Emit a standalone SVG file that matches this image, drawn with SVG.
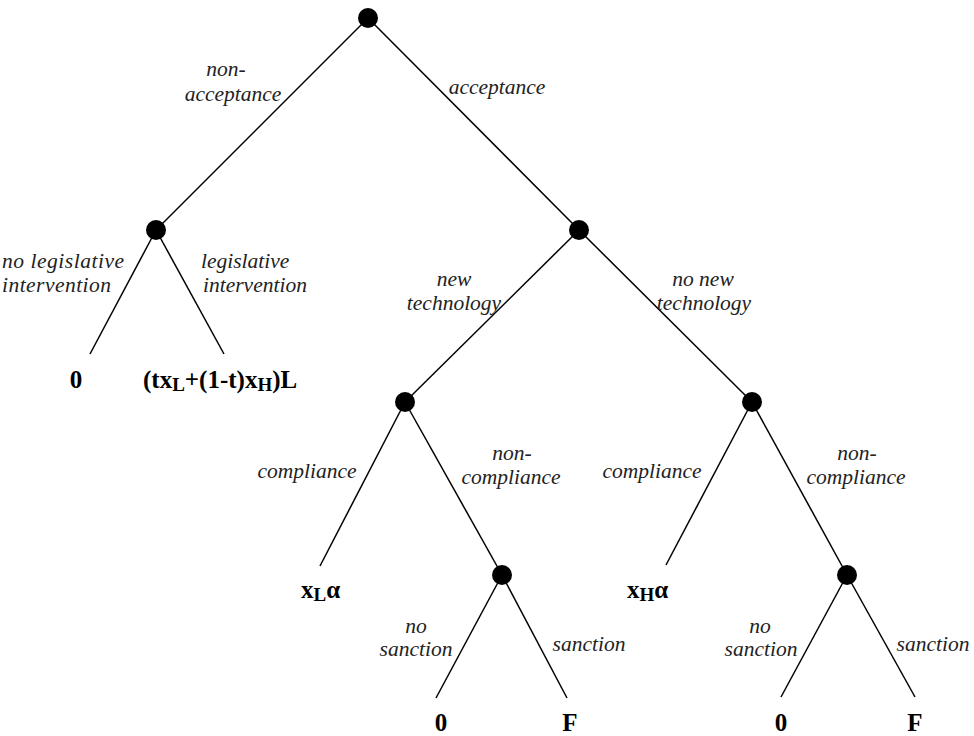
<svg xmlns="http://www.w3.org/2000/svg" width="974" height="736" viewBox="0 0 974 736">
<style>
.e{stroke:#000;stroke-width:1.5;fill:none}
.n{fill:#000}
.lb{font-family:"Liberation Serif","Times New Roman",serif;font-style:italic;font-size:21.5px;fill:#222;text-anchor:middle}
.p{font-family:"Liberation Serif","Times New Roman",serif;font-weight:bold;font-size:25px;fill:#000}
.s{font-size:19px}
</style>
<rect width="974" height="736" fill="#fff"/>
<g id="connectors">
<line class="e" x1="368" y1="18" x2="156" y2="230"/>
<line class="e" x1="368" y1="18" x2="579" y2="230"/>
<line class="e" x1="156" y1="230" x2="90" y2="354"/>
<line class="e" x1="156" y1="230" x2="224" y2="354"/>
<line class="e" x1="579" y1="230" x2="405" y2="402"/>
<line class="e" x1="579" y1="230" x2="752" y2="402"/>
<line class="e" x1="405" y1="402" x2="320" y2="566"/>
<line class="e" x1="405" y1="402" x2="502" y2="575"/>
<line class="e" x1="502" y1="575" x2="436" y2="698"/>
<line class="e" x1="502" y1="575" x2="567" y2="698"/>
<line class="e" x1="752" y1="402" x2="666" y2="565"/>
<line class="e" x1="752" y1="402" x2="847" y2="575"/>
<line class="e" x1="847" y1="575" x2="781" y2="697"/>
<line class="e" x1="847" y1="575" x2="915" y2="697"/>
<text class="lb" x="226" y="76">non-</text>
<text class="lb" x="233" y="101">acceptance</text>
<text class="lb" x="497" y="94">acceptance</text>
<text class="lb" x="2" y="268" style="text-anchor:start" textLength="122" lengthAdjust="spacing">no legislative</text>
<text class="lb" x="2" y="292" style="text-anchor:start" textLength="109" lengthAdjust="spacing">intervention</text>
<text class="lb" x="201" y="268" style="text-anchor:start">legislative</text>
<text class="lb" x="203" y="292" style="text-anchor:start">intervention</text>
<text class="lb" x="454" y="286">new</text>
<text class="lb" x="454" y="310">technology</text>
<text class="lb" x="703" y="286">no new</text>
<text class="lb" x="704" y="310">technology</text>
<text class="lb" x="307" y="478">compliance</text>
<text class="lb" x="512" y="460">non-</text>
<text class="lb" x="511" y="484">compliance</text>
<text class="lb" x="652" y="478">compliance</text>
<text class="lb" x="857" y="460">non-</text>
<text class="lb" x="856" y="484">compliance</text>
<text class="lb" x="416" y="633">no</text>
<text class="lb" x="416" y="656">sanction</text>
<text class="lb" x="589" y="651">sanction</text>
<text class="lb" x="760" y="633">no</text>
<text class="lb" x="761" y="656">sanction</text>
<text class="lb" x="933" y="651">sanction</text>
</g>
<g id="n-root"><circle class="n" cx="368" cy="18" r="10"/></g>
<g id="n-government"><circle class="n" cx="156" cy="230" r="10"/></g>
<g id="n-acceptance"><circle class="n" cx="579" cy="230" r="10"/></g>
<g id="n-newtech"><circle class="n" cx="405" cy="402" r="10"/></g>
<g id="n-nonewtech"><circle class="n" cx="752" cy="402" r="10"/></g>
<g id="n-noncomp1"><circle class="n" cx="502" cy="575" r="10"/></g>
<g id="n-noncomp2"><circle class="n" cx="847" cy="575" r="10"/></g>
<g id="payoff-nolegis"><text class="p" x="76" y="388" text-anchor="middle">0</text></g>
<g id="payoff-legis"><text class="p" x="143" y="388">(tx<tspan class="s" dy="3">L</tspan><tspan dy="-3">+(1-t)x</tspan><tspan class="s" dy="3">H</tspan><tspan dy="-3">)L</tspan></text></g>
<g id="payoff-xl"><text class="p" x="301" y="598">x<tspan class="s" dy="3">L</tspan><tspan dy="-3">α</tspan></text></g>
<g id="payoff-xh"><text class="p" x="627" y="598">x<tspan class="s" dy="3">H</tspan><tspan dy="-3">α</tspan></text></g>
<g id="payoff-ns1"><text class="p" x="441" y="731" text-anchor="middle">0</text></g>
<g id="payoff-s1"><text class="p" x="570" y="731" text-anchor="middle">F</text></g>
<g id="payoff-ns2"><text class="p" x="781" y="731" text-anchor="middle">0</text></g>
<g id="payoff-s2"><text class="p" x="915" y="731" text-anchor="middle">F</text></g>
</svg>
